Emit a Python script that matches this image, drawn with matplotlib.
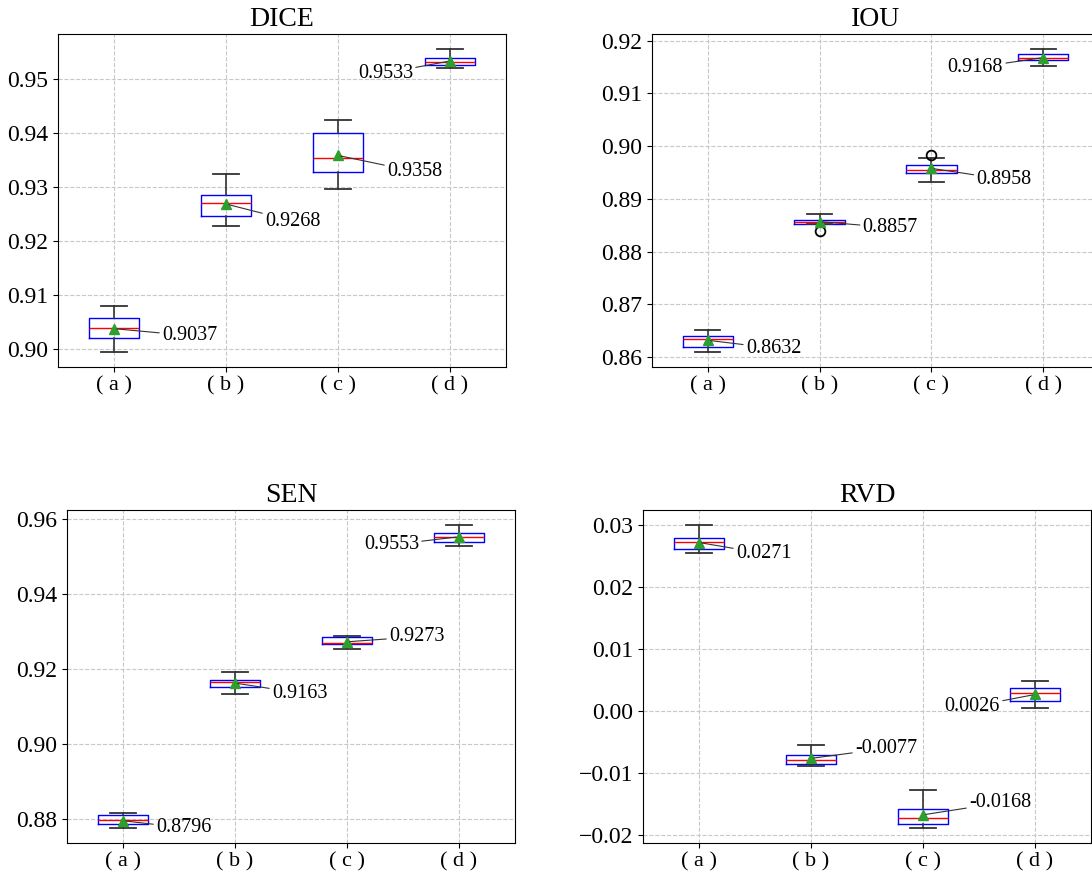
import matplotlib
matplotlib.use("Agg")
import matplotlib.pyplot as plt

plt.rcParams['font.family'] = ['Liberation Serif', 'DejaVu Serif']

groups = ['( a )', '( b )', '( c )', '( d )']
metrics = ['DICE', 'IOU', 'SEN', 'RVD']

# box statistics, one list per metric (a, b, c, d)
dice_whislo = [0.8994, 0.9228, 0.9295, 0.9520]
dice_q1 = [0.9020, 0.9245, 0.9328, 0.9525]
dice_med = [0.9038, 0.9269, 0.9353, 0.9532]
dice_q3 = [0.9056, 0.9285, 0.9399, 0.9539]
dice_whishi = [0.9079, 0.9324, 0.9424, 0.9555]
dice_mean = [0.9037, 0.9268, 0.9358, 0.9533]
dice_fliers = [[], [], [], []]

iou_whislo = [0.8610, 0.8852, 0.8933, 0.9152]
iou_q1 = [0.8620, 0.8853, 0.8950, 0.9163]
iou_med = [0.8634, 0.8857, 0.8954, 0.9168]
iou_q3 = [0.8640, 0.8860, 0.8964, 0.9174]
iou_whishi = [0.8651, 0.8872, 0.8977, 0.9184]
iou_mean = [0.8632, 0.8857, 0.8958, 0.9168]
iou_fliers = [[], [0.8840], [0.8983], []]

sen_whislo = [0.8777, 0.9135, 0.9255, 0.9528]
sen_q1 = [0.8788, 0.9152, 0.9266, 0.9539]
sen_med = [0.8798, 0.9166, 0.9269, 0.9553]
sen_q3 = [0.8810, 0.9171, 0.9286, 0.9563]
sen_whishi = [0.8816, 0.9192, 0.9288, 0.9584]
sen_mean = [0.8796, 0.9163, 0.9273, 0.9553]
sen_fliers = [[], [], [], []]

rvd_whislo = [0.0254, -0.0090, -0.0189, 0.0005]
rvd_q1 = [0.0260, -0.0086, -0.0182, 0.0015]
rvd_med = [0.0272, -0.0080, -0.0173, 0.0029]
rvd_q3 = [0.0279, -0.0071, -0.0158, 0.0036]
rvd_whishi = [0.0299, -0.0056, -0.0128, 0.0047]
rvd_mean = [0.0271, -0.0077, -0.0168, 0.0026]
rvd_fliers = [[], [], [], []]

stats_by_metric = {
    'DICE': (dice_whislo, dice_q1, dice_med, dice_q3, dice_whishi, dice_mean, dice_fliers),
    'IOU': (iou_whislo, iou_q1, iou_med, iou_q3, iou_whishi, iou_mean, iou_fliers),
    'SEN': (sen_whislo, sen_q1, sen_med, sen_q3, sen_whishi, sen_mean, sen_fliers),
    'RVD': (rvd_whislo, rvd_q1, rvd_med, rvd_q3, rvd_whishi, rvd_mean, rvd_fliers),
}

# label offsets (pixels) from the mean marker
label_offsets = {
    'DICE': [(48, -7), (39, -17), (49, -16), (-37, -12)],
    'IOU': [(38, -8), (43, -6), (45, -11), (-40, -10)],
    'SEN': [(33, -7), (37, -10), (42, 5), (-40, -8)],
    'RVD': [(37, -11), (44, 10), (46, 12), (-35, -12)],
}

# axes rectangles in pixels: left, top, right, bottom
W, H = 1092, 876
rects = {
    'DICE': (58, 34, 506, 367),
    'IOU': (652, 34, 1099, 367),
    'SEN': (67, 510, 515, 843),
    'RVD': (643, 510, 1091, 843),
}

fig = plt.figure(figsize=(W / 100, H / 100), dpi=100)

for name in metrics:
    l, t, r, b = rects[name]
    ax = fig.add_axes([l / W, 1 - b / H, (r - l) / W, (b - t) / H])
    whislo, q1, med, q3, whishi, mean, fliers = stats_by_metric[name]
    stats = []
    for i in range(4):
        stats.append(dict(whislo=whislo[i], q1=q1[i], med=med[i], q3=q3[i],
                          whishi=whishi[i], mean=mean[i], fliers=fliers[i],
                          label=groups[i]))
    ax.bxp(stats, widths=0.45, showmeans=True, patch_artist=False,
           boxprops=dict(color='blue', lw=1.0),
           medianprops=dict(color='red', lw=1.0),
           whiskerprops=dict(color='#333333', lw=1.2),
           capprops=dict(color='#333333', lw=1.3),
           flierprops=dict(marker='o', markerfacecolor='none',
                           markeredgecolor='black', markersize=7, mew=1.3),
           meanprops=dict(marker='^', markerfacecolor='#2ca02c',
                          markeredgecolor='#2ca02c', markersize=7))
    ax.grid(True, linestyle='--', color='#c8c8c8', lw=0.8)
    ax.set_axisbelow(True)
    ax.set_title(name, fontsize=20)
    ax.tick_params(axis='x', labelsize=16)
    ax.tick_params(axis='y', labelsize=17)
    for i in range(4):
        dx, dy = label_offsets[name][i]
        ax.annotate('%.4f' % mean[i], xy=(i + 1, mean[i]), xytext=(dx, dy),
                    textcoords='offset pixels', fontsize=14.5,
                    ha='left' if dx > 0 else 'right', va='center',
                    arrowprops=dict(arrowstyle='-', color='#333333', lw=0.8,
                                    shrinkA=0, shrinkB=2))

fig.savefig('out.png', dpi=100)
